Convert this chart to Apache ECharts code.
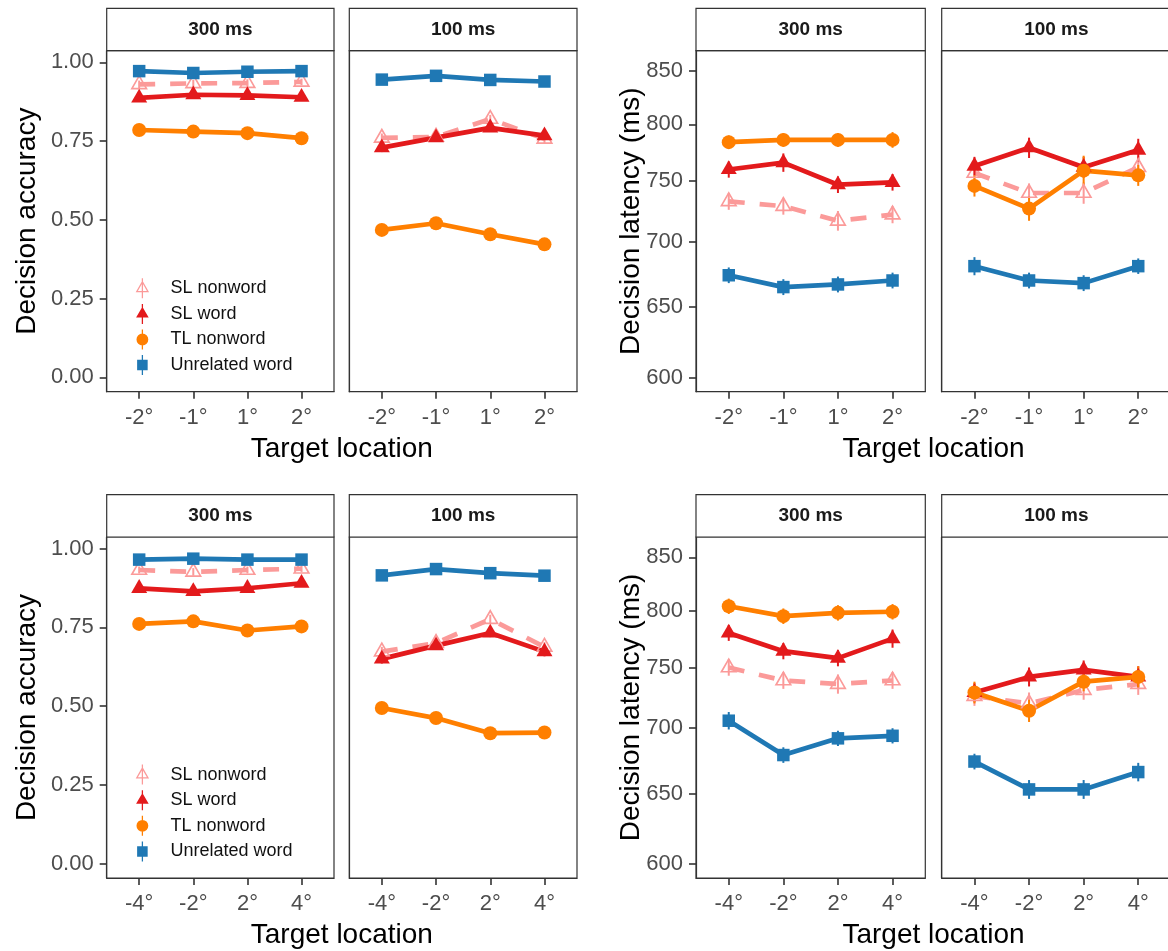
<!DOCTYPE html>
<html><head><meta charset="utf-8">
<script src="https://cdn.jsdelivr.net/npm/echarts@6/dist/echarts.min.js"></script>
<style>html,body{margin:0;padding:0;background:#fff}#c{width:1168px;height:951px}</style>
</head><body><div id="c"></div>
<script>
// ---------------- data ----------------
const conditions = ['SL nonword', 'SL word', 'TL nonword', 'Unrelated word'];
const panelLabels = ['300 ms', '100 ms'];
const locExp1 = ['-2°', '-1°', '1°', '2°'];
const locExp2 = ['-4°', '-2°', '2°', '4°'];
const accTicks = [0, 0.25, 0.5, 0.75, 1];
const latTicks = [600, 650, 700, 750, 800, 850];

// Experiment 1 (top row) - accuracy
const acc1_300_SLnonword = [0.930, 0.933, 0.934, 0.938];
const acc1_300_SLword    = [0.887, 0.897, 0.895, 0.889];
const acc1_300_TLnonword = [0.785, 0.780, 0.775, 0.759];
const acc1_300_unrelated = [0.972, 0.966, 0.970, 0.972];
const acc1_100_SLnonword = [0.760, 0.763, 0.820, 0.757];
const acc1_100_SLword    = [0.729, 0.761, 0.792, 0.767];
const acc1_100_TLnonword = [0.468, 0.489, 0.454, 0.422];
const acc1_100_unrelated = [0.945, 0.957, 0.944, 0.939];
// Experiment 1 - latency (ms)
const lat1_300_SLnonword = [733, 729, 717, 722];
const lat1_300_SLword    = [760, 766, 747, 749];
const lat1_300_TLnonword = [784, 786, 786, 786];
const lat1_300_unrelated = [674, 665, 667, 670];
const lat1_100_SLnonword = [757, 740, 740, 762];
const lat1_100_SLword    = [763, 779, 762, 777];
const lat1_100_TLnonword = [746, 727, 759, 755];
const lat1_100_unrelated = [681, 670, 668, 681];
// Experiment 2 (bottom row) - accuracy
const acc2_300_SLnonword = [0.932, 0.926, 0.932, 0.936];
const acc2_300_SLword    = [0.874, 0.864, 0.874, 0.890];
const acc2_300_TLnonword = [0.761, 0.769, 0.740, 0.753];
const acc2_300_unrelated = [0.965, 0.968, 0.965, 0.965];
const acc2_100_SLnonword = [0.673, 0.700, 0.776, 0.688];
const acc2_100_SLword    = [0.650, 0.692, 0.732, 0.673];
const acc2_100_TLnonword = [0.494, 0.462, 0.414, 0.416];
const acc2_100_unrelated = [0.915, 0.935, 0.922, 0.914];
// Experiment 2 - latency (ms)
const lat2_300_SLnonword = [750, 739, 736, 739];
const lat2_300_SLword    = [780, 764, 758, 775];
const lat2_300_TLnonword = [804, 795, 798, 799];
const lat2_300_unrelated = [706, 679, 692, 694];
const lat2_100_SLnonword = [726, 720, 731, 736];
const lat2_100_SLword    = [729, 742, 748, 742];
const lat2_100_TLnonword = [729, 714, 738, 742];
const lat2_100_unrelated = [674, 653, 653, 666];

// standard errors (first four: 300 ms, last four: 100 ms)
const se_acc1_SLnonword = [0.012, 0.011, 0.012, 0.010, 0.014, 0.015, 0.013, 0.014];
const se_acc1_SLword    = [0.010, 0.009, 0.010, 0.010, 0.014, 0.013, 0.013, 0.013];
const se_acc1_TLnonword = [0.011, 0.012, 0.011, 0.012, 0.015, 0.016, 0.016, 0.015];
const se_acc1_unrelated = [0.006, 0.007, 0.006, 0.006, 0.008, 0.007, 0.008, 0.008];
const se_acc2_SLnonword = [0.011, 0.012, 0.011, 0.010, 0.015, 0.014, 0.014, 0.015];
const se_acc2_SLword    = [0.011, 0.010, 0.011, 0.010, 0.015, 0.014, 0.013, 0.015];
const se_acc2_TLnonword = [0.012, 0.012, 0.013, 0.012, 0.016, 0.016, 0.015, 0.015];
const se_acc2_unrelated = [0.006, 0.006, 0.007, 0.006, 0.009, 0.008, 0.008, 0.009];
const se_lat1_SLnonword = [7, 7, 8, 7, 9, 8, 9, 10];
const se_lat1_SLword    = [7, 8, 7, 7, 8, 9, 9, 10];
const se_lat1_TLnonword = [6, 6, 6, 7, 9, 10, 13, 9];
const se_lat1_unrelated = [6, 6, 6, 6, 7, 6, 6, 6];
const se_lat2_SLnonword = [7, 7, 8, 7, 8, 9, 8, 9];
const se_lat2_SLword    = [7, 7, 7, 8, 8, 8, 8, 9];
const se_lat2_TLnonword = [7, 7, 7, 7, 9, 9, 8, 9];
const se_lat2_unrelated = [7, 6, 6, 6, 6, 7, 7, 7];

// ---------------- styling / layout ----------------
const FONT = '"Liberation Sans", Arial, Helvetica, sans-serif';
const colors = ['#FB9A99', '#E31A1C', '#FF7F00', '#1F78B4'];
const PX = [[106.7, 334.0], [349.3, 577.0], [696.0, 925.3], [941.7, 1171.0]];
const ROW_OFF = [0, 486.3];
const STRIP_TOP = 8.3, PANEL_TOP = 50.7, PANEL_BOTTOM = 391.7;

const openTri = 'path://M8,2.5 L15.36,15.25 L0.64,15.25 Z M8,5.3 L3.06,13.85 L12.94,13.85 Z';
const symbols = [openTri, 'triangle', 'circle', 'rect'];
const symSizes = [[17.5, 15.2], [16, 13.8], 14, 12.5];
const symOffsets = [[0, -2.5], [0, -2.3], [0, 0], [0, 0]];
const legendIcons = [
  'path://M7.3,0 L8.7,0 L8.7,22 L7.3,22 Z M8,2.5 L15.36,15.25 L0.64,15.25 Z M8,5.3 L3.06,13.85 L12.94,13.85 Z',
  'path://M7.3,0 L8.7,0 L8.7,22 L7.3,22 Z M8,3 L14.93,15 L1.07,15 Z',
  'path://M7.3,0 L8.7,0 L8.7,4.6 L7.3,4.6 Z M7.3,17.4 L8.7,17.4 L8.7,22 L7.3,22 Z M1.5,11 A6.5,6.5 0 1,1 14.5,11 A6.5,6.5 0 1,1 1.5,11 Z',
  'path://M7.3,0 L8.7,0 L8.7,22 L7.3,22 Z M2.2,5.2 L13.8,5.2 L13.8,16.8 L2.2,16.8 Z'
];

const groups = [
  { row: 0, cols: [0, 1], kind: 'acc', xl: locExp1,
    data: [[acc1_300_SLnonword, acc1_300_SLword, acc1_300_TLnonword, acc1_300_unrelated],
           [acc1_100_SLnonword, acc1_100_SLword, acc1_100_TLnonword, acc1_100_unrelated]],
    se: [se_acc1_SLnonword, se_acc1_SLword, se_acc1_TLnonword, se_acc1_unrelated] },
  { row: 0, cols: [2, 3], kind: 'lat', xl: locExp1,
    data: [[lat1_300_SLnonword, lat1_300_SLword, lat1_300_TLnonword, lat1_300_unrelated],
           [lat1_100_SLnonword, lat1_100_SLword, lat1_100_TLnonword, lat1_100_unrelated]],
    se: [se_lat1_SLnonword, se_lat1_SLword, se_lat1_TLnonword, se_lat1_unrelated] },
  { row: 1, cols: [0, 1], kind: 'acc', xl: locExp2,
    data: [[acc2_300_SLnonword, acc2_300_SLword, acc2_300_TLnonword, acc2_300_unrelated],
           [acc2_100_SLnonword, acc2_100_SLword, acc2_100_TLnonword, acc2_100_unrelated]],
    se: [se_acc2_SLnonword, se_acc2_SLword, se_acc2_TLnonword, se_acc2_unrelated] },
  { row: 1, cols: [2, 3], kind: 'lat', xl: locExp2,
    data: [[lat2_300_SLnonword, lat2_300_SLword, lat2_300_TLnonword, lat2_300_unrelated],
           [lat2_100_SLnonword, lat2_100_SLword, lat2_100_TLnonword, lat2_100_unrelated]],
    se: [se_lat2_SLnonword, se_lat2_SLword, se_lat2_TLnonword, se_lat2_unrelated] }
];

const grid = [], xAxis = [], yAxis = [], series = [], graphic = [], legend = [];

groups.forEach((g, gi) => {
  const off = ROW_OFF[g.row];
  g.cols.forEach((col, p) => {
    const idx = gi * 2 + p;
    const left = PX[col][0], width = PX[col][1] - PX[col][0];
    grid.push({ left: left, top: off + PANEL_TOP, width: width, height: PANEL_BOTTOM - PANEL_TOP,
      show: true, borderColor: '#333', borderWidth: 1.2, backgroundColor: '#fff',
      containLabel: false, outerBoundsMode: 'none' });
    xAxis.push({ gridIndex: idx, type: 'value', min: 0.4, max: 4.6,
      axisLine: { show: true, onZero: false, lineStyle: { color: '#333', width: 1.2 } },
      splitLine: { show: false },
      axisTick: { show: true, customValues: [1, 2, 3, 4], length: 7, lineStyle: { color: '#333', width: 1.6 } },
      axisLabel: { show: true, customValues: [1, 2, 3, 4], formatter: v => g.xl[Math.round(v) - 1],
        color: '#4D4D4D', fontSize: 22, margin: 15, fontFamily: FONT } });
    const showY = p === 0;
    const ya = { gridIndex: idx, splitLine: { show: false },
      axisLine: { show: true, onZero: false, lineStyle: { color: '#333', width: 1.2 } },
      axisTick: { show: showY, length: 7, lineStyle: { color: '#333', width: 1.6 } },
      axisLabel: { show: showY, color: '#4D4D4D', fontSize: 22, margin: 13, fontFamily: FONT } };
    if (g.kind === 'acc') {
      Object.assign(ya, { type: 'value', min: -0.0457, max: 1.0368 });
      ya.axisTick.customValues = accTicks;
      ya.axisLabel.customValues = accTicks;
      ya.axisLabel.formatter = v => v.toFixed(2);
    } else {
      Object.assign(ya, { type: 'log', logBase: 10, min: 590.5, max: 869.8 });
      ya.axisTick.customValues = latTicks;
      ya.axisLabel.customValues = latTicks;
      ya.axisLabel.formatter = v => String(Math.round(v));
    }
    yAxis.push(ya);

    // strip
    graphic.push({ type: 'rect', silent: true, z: 10,
      shape: { x: left, y: off + STRIP_TOP, width: width, height: PANEL_TOP - STRIP_TOP },
      style: { fill: '#fff', stroke: '#333', lineWidth: 1.2 } });
    graphic.push({ type: 'text', silent: true, z: 11,
      x: left + width / 2, y: off + (STRIP_TOP + PANEL_TOP) / 2,
      style: { text: panelLabels[p], fontSize: 19, fontWeight: 'bold', fontFamily: FONT,
        fill: '#1A1A1A', align: 'center', verticalAlign: 'middle' } });

    conditions.forEach((name, c) => {
      const vals = g.data[p][c];
      const ses = g.se[c].slice(p * 4, p * 4 + 4);
      series.push({ type: 'line', name: name, xAxisIndex: idx, yAxisIndex: idx, z: 2,
        data: vals.map((v, i) => [i + 1, v]), symbol: 'none', showSymbol: false, silent: true,
        lineStyle: { color: colors[c], width: 4.7, type: c === 0 ? [16, 15] : 'solid', cap: 'butt', join: 'round' },
        itemStyle: { color: colors[c] } });
      series.push({ type: 'custom', name: name, xAxisIndex: idx, yAxisIndex: idx, z: 3, silent: true,
        data: vals.map((v, i) => [i + 1, v - ses[i], v + ses[i]]),
        renderItem: (params, api) => {
          const x = api.value(0);
          const a = api.coord([x, api.value(1)]);
          const b = api.coord([x, api.value(2)]);
          return { type: 'line', shape: { x1: a[0], y1: a[1], x2: b[0], y2: b[1] },
            style: { stroke: colors[c], lineWidth: 2 } };
        } });
      series.push({ type: 'scatter', name: name, xAxisIndex: idx, yAxisIndex: idx, z: 4, silent: true,
        data: vals.map((v, i) => [i + 1, v]),
        symbol: symbols[c], symbolSize: symSizes[c], symbolOffset: symOffsets[c],
        itemStyle: { color: colors[c], opacity: 1 } });
    });
  });

  // axis titles
  const xl = PX[g.cols[0]][0], xr = PX[g.cols[1]][1];
  graphic.push({ type: 'text', silent: true, x: (xl + xr) / 2, y: off + 449,
    style: { text: 'Target location', fontSize: 28, fontFamily: FONT, fill: '#000',
      align: 'center', verticalAlign: 'middle' } });
  graphic.push({ type: 'text', silent: true, x: g.kind === 'acc' ? 27 : 631,
    y: off + (PANEL_TOP + PANEL_BOTTOM) / 2, rotation: Math.PI / 2,
    style: { text: g.kind === 'acc' ? 'Decision accuracy' : 'Decision latency (ms)',
      fontSize: 28, fontFamily: FONT, fill: '#000', align: 'center', verticalAlign: 'middle' } });

  if (g.kind === 'acc') {
    legend.push({ orient: 'vertical', left: 135.7, top: off + 278.3, itemWidth: 46, itemHeight: 20,
      itemGap: 5.6, selectedMode: false, padding: 0,
      textStyle: { fontSize: 18, color: '#111', fontFamily: FONT },
      data: conditions.map((n, c) => ({ name: n, icon: legendIcons[c],
        itemStyle: { color: colors[c], borderWidth: 0, opacity: 1 } })) });
  }
});

const chart = echarts.init(document.getElementById('c'), null, { renderer: 'canvas' });
chart.setOption({ animation: false, backgroundColor: '#fff', grid, xAxis, yAxis, series, graphic, legend });
</script></body></html>
